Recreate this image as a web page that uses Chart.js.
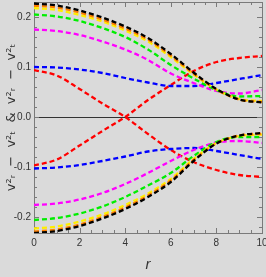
<!DOCTYPE html>
<html>
<head>
<meta charset="utf-8">
<script src="https://cdn.jsdelivr.net/npm/chart.js@4.4.1/dist/chart.umd.min.js"></script>
<style>
  html, body { margin: 0; padding: 0; background: #dadada; }
  canvas { display: block; }
</style>
</head>
<body>
<canvas id="chart" width="266" height="277"></canvas>
<script>
// values, r = 0..10
const rValues = [0, 1, 2, 3, 4, 5, 6, 7, 8, 9, 10];

const blackTop   = [0.227, 0.223, 0.213, 0.199, 0.181, 0.158, 0.126, 0.089, 0.056, 0.035, 0.029];
const orangeTop  = [0.223, 0.219, 0.209, 0.195, 0.177, 0.155, 0.123, 0.087, 0.055, 0.035, 0.030];
const yellowTop  = [0.218, 0.214, 0.204, 0.191, 0.173, 0.151, 0.120, 0.085, 0.055, 0.036, 0.032];
const greenTop   = [0.205, 0.201, 0.192, 0.178, 0.160, 0.135, 0.104, 0.077, 0.054, 0.041, 0.042];
const magentaTop = [0.175, 0.172, 0.164, 0.151, 0.135, 0.114, 0.087, 0.068, 0.052, 0.047, 0.054];
const blueTop    = [0.100, 0.099, 0.095, 0.088, 0.078, 0.069, 0.062, 0.062, 0.068, 0.076, 0.084];
const redFalling = [0.094, 0.083, 0.056, 0.027, 0.000, -0.034, -0.066, -0.090, -0.106, -0.116, -0.120];

const blackBot   = [-0.232, -0.228, -0.218, -0.203, -0.184, -0.160, -0.130, -0.088, -0.053, -0.037, -0.032];
const orangeBot  = [-0.229, -0.225, -0.215, -0.200, -0.181, -0.157, -0.127, -0.086, -0.053, -0.037, -0.033];
const yellowBot  = [-0.223, -0.219, -0.209, -0.195, -0.176, -0.153, -0.124, -0.084, -0.052, -0.038, -0.035];
const greenBot   = [-0.206, -0.202, -0.193, -0.179, -0.160, -0.137, -0.112, -0.078, -0.050, -0.040, -0.040];
const magentaBot = [-0.176, -0.173, -0.165, -0.152, -0.134, -0.112, -0.088, -0.066, -0.051, -0.048, -0.052];
const blueBot    = [-0.103, -0.101, -0.096, -0.088, -0.079, -0.069, -0.064, -0.062, -0.068, -0.076, -0.084];
const redRising  = [-0.097, -0.085, -0.057, -0.028, 0.000, 0.034, 0.064, 0.092, 0.110, 0.118, 0.122];

const xTicks = [0, 2, 4, 6, 8, 10];
const yTicks = [-0.2, -0.1, 0.0, 0.1, 0.2];

const BG = '#dadada';
const FRAME = '#7a7a7a';

function pts(ys) {
    return ys.map((y, i) => ({ x: rValues[i], y: y }));
}

function line(ys, color) {
    return {
        data: pts(ys),
        borderColor: color,
        borderWidth: 2.3,
        borderDash: [5, 3],
        pointRadius: 0,
        fill: false,
        cubicInterpolationMode: 'monotone',
        xAxisID: 'x',
        yAxisID: 'y'
    };
}

// black first so it ends up drawn on top
const datasets = [
    line(blackTop, '#000000'), line(blackBot, '#000000'),
    line(orangeTop, '#ff7f00'), line(orangeBot, '#ff7f00'),
    line(yellowTop, '#ffee00'), line(yellowBot, '#ffee00'),
    line(greenTop, '#00ee00'), line(greenBot, '#00ee00'),
    line(magentaTop, '#ff00ff'), line(magentaBot, '#ff00ff'),
    line(blueTop, '#0000ff'), line(blueBot, '#0000ff'),
    line(redFalling, '#ff0000'), line(redRising, '#ff0000')
];

// inward tick marks on all four sides
function drawTicks(chart) {
    const c = chart.ctx;
    const a = chart.chartArea;
    const xs = chart.scales.x, ys = chart.scales.y;
    c.save();
    c.setLineDash([]);
    c.strokeStyle = FRAME;
    c.lineWidth = 1;
    c.beginPath();
    for (let k = 0; k <= 20; k++) {
        const px = Math.round(xs.getPixelForValue(k * 0.5)) + 0.5;
        const len = k % 4 === 0 ? 5 : 3;
        c.moveTo(px, a.bottom);
        c.lineTo(px, a.bottom - len);
        c.moveTo(px, a.top);
        c.lineTo(px, a.top + len);
    }
    for (let i = -11; i <= 11; i++) {
        const py = Math.round(ys.getPixelForValue(i * 0.02)) + 0.5;
        if (py < a.top || py > a.bottom) continue;
        const len = i % 5 === 0 ? 5 : 3;
        c.moveTo(a.left, py);
        c.lineTo(a.left + len, py);
        c.moveTo(a.right, py);
        c.lineTo(a.right - len, py);
    }
    c.stroke();
    c.restore();
}

const framePlugin = {
    id: 'frame',
    beforeDraw(chart) {
        const c = chart.ctx;
        c.save();
        c.fillStyle = BG;
        c.fillRect(0, 0, chart.width, chart.height);
        c.restore();
    },
    beforeDatasetsDraw(chart) {
        const c = chart.ctx;
        const a = chart.chartArea;
        const y0 = Math.round(chart.scales.y.getPixelForValue(0)) + 0.5;
        c.save();
        c.setLineDash([]);
        c.strokeStyle = '#333333';
        c.lineWidth = 1.2;
        c.beginPath();
        c.moveTo(a.left, y0);
        c.lineTo(a.right, y0);
        c.stroke();
        c.restore();
        drawTicks(chart);
    }
};

const tickFont = { family: '"Liberation Sans Narrow", "Liberation Sans", Arial, sans-serif', size: 10 };
const edge = { display: true, color: FRAME, width: 1 };

function noPad(s) {
    s.paddingLeft = 0;
    s.paddingRight = 0;
    s.paddingTop = 0;
    s.paddingBottom = 0;
}

new Chart(document.getElementById('chart'), {
    type: 'line',
    data: { datasets: datasets },
    options: {
        responsive: false,
        animation: false,
        layout: { padding: { top: 2, right: 4, left: 0, bottom: 0 } },
        plugins: { legend: { display: false }, tooltip: { enabled: false } },
        scales: {
            x: {
                type: 'linear',
                position: 'bottom',
                min: 0,
                max: 10,
                grid: { display: false, drawTicks: false },
                border: edge,
                afterBuildTicks: s => { s.ticks = xTicks.map(v => ({ value: v })); },
                afterFit: s => { s.height = 44; noPad(s); },
                ticks: {
                    padding: 4,
                    color: '#333',
                    font: tickFont,
                    maxRotation: 0,
                    callback: v => String(v)
                },
                title: {
                    display: true,
                    text: 'r',
                    color: '#333',
                    padding: { top: 0, bottom: 3 },
                    font: { family: '"Liberation Sans", Arial, sans-serif', size: 15, style: 'italic' }
                }
            },
            xTop: {
                type: 'linear',
                position: 'top',
                min: 0,
                max: 10,
                grid: { display: false, drawTicks: false },
                border: edge,
                ticks: { display: false },
                afterFit: s => { s.height = 0; noPad(s); }
            },
            y: {
                position: 'left',
                min: -0.232,
                max: 0.23,
                grid: { display: false, drawTicks: false },
                border: edge,
                afterBuildTicks: s => { s.ticks = yTicks.map(v => ({ value: v })); },
                afterFit: s => { s.width = 34; noPad(s); },
                ticks: {
                    padding: 3,
                    color: '#333',
                    font: tickFont,
                    callback: v => v.toFixed(1)
                },
                title: {
                    display: true,
                    text: 'v\u00b2\u1d63  \u2212  v\u00b2\u209c  &  v\u00b2\u1d63  \u2212  v\u00b2\u209c',
                    color: '#333',
                    padding: { top: 4, bottom: 0 },
                    font: { family: '"DejaVu Sans", sans-serif', size: 13 }
                }
            },
            yRight: {
                position: 'right',
                min: -0.232,
                max: 0.23,
                grid: { display: false, drawTicks: false },
                border: edge,
                ticks: { display: false },
                afterFit: s => { s.width = 0; noPad(s); }
            }
        }
    },
    plugins: [framePlugin]
});
</script>
</body>
</html>
